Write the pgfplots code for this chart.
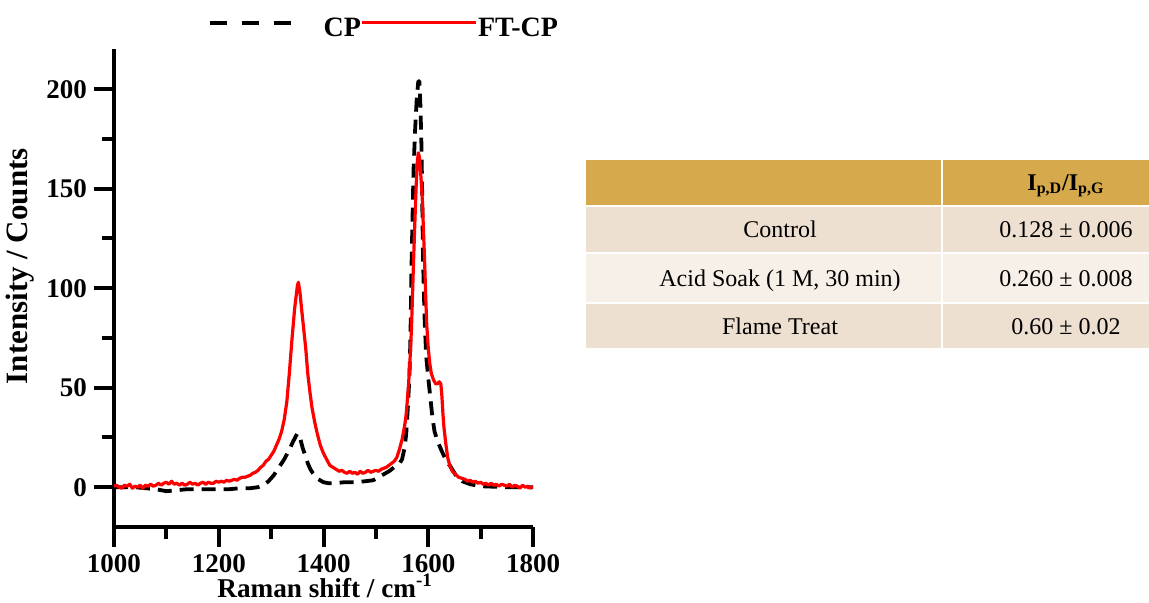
\documentclass[border=0pt]{standalone}
\usepackage{pgfplots}
\pgfplotsset{compat=1.18}
\usepackage{fontspec}
\setmainfont{Liberation Serif}
\definecolor{hdr}{RGB}{214,170,76}
\definecolor{rowA}{RGB}{237,224,209}
\definecolor{rowB}{RGB}{246,240,233}
\begin{document}
\begin{tikzpicture}
\useasboundingbox (0,0) rectangle (574.5pt,301pt);
\begin{axis}[
  at={(57pt,37.5pt)}, anchor=south west,
  scale only axis, width=209.5pt, height=238.8pt,
  xmin=1000, xmax=1800, ymin=-20, ymax=220,
  axis lines=left,
  axis line style={line width=2pt, -},
  xtick={1000,1200,1400,1600,1800}, ytick={0,50,100,150,200},
  minor xtick={1000,1200,1400,1600,1800}, minor ytick={0,50,100,150,200},
  extra x ticks={1100,1300,1500,1700}, extra x tick labels={},
  extra y ticks={25,75,125,175}, extra y tick labels={},
  extra x tick style={major tick length=6pt},
  extra y tick style={major tick length=6pt},
  tick align=outside, major tick length=10pt, minor tick length=10pt,
  every tick/.style={black, line width=2pt},
  xticklabel={\bfseries\pgfmathprintnumber[assume math mode=true,1000 sep={}]{\tick}},
  yticklabel={\bfseries\pgfmathprintnumber[assume math mode=true]{\tick}},
  ticklabel style={font=\bfseries\fontsize{13.5}{15}\selectfont},
  xlabel={Raman shift / cm\textsuperscript{-1}},
  ylabel={Intensity / Counts},
  xlabel style={font=\bfseries\fontsize{13.6}{15}\selectfont, at={(axis description cs:0.504,-0.123)}, anchor=center},
  ylabel style={font=\bfseries\fontsize{15.5}{17}\selectfont, at={(axis description cs:-0.224,0.546)}, anchor=center},
  legend columns=2,
  legend style={at={(axis description cs:0.2235,1.043)}, anchor=west, draw=none, fill=none, inner sep=0pt, outer sep=0pt,
    font=\bfseries\fontsize{14}{16}\selectfont, nodes={inner sep=0pt}, column sep=0pt},
]
\addplot[black, line width=1.9pt, dash pattern=on 7pt off 4pt, line join=round,
  legend image code/.code={\draw[black,line width=1.9pt,dash pattern=on 8.5pt off 7.5pt] (0pt,3pt) -- (40.5pt,3pt); \path[draw=none] (0pt,0pt) -- (57pt,0pt);}]
coordinates {
(1000,0) (1020,0) (1040,0) (1060,-0.5) (1080,-1) (1100,-2) (1120,-1.5) (1140,-1) (1160,-1) (1180,-1)
(1200,-1) (1220,-1) (1240,-0.5) (1260,-0.5) (1275,0) (1285,1) (1295,3) (1305,6) (1315,10) (1325,14)
(1335,19) (1342,23) (1350,27) (1355,25) (1360,20) (1365,16) (1370,12) (1375,9) (1380,7) (1390,4)
(1400,2.5) (1410,2) (1420,2) (1440,2.5) (1460,2.5) (1480,3) (1495,3.5) (1505,5) (1515,6.5) (1525,8)
(1535,10) (1545,12) (1550,14) (1555,20) (1558,27) (1561,40) (1564,55) (1566,75) (1568,110) (1570,136)
(1572,160) (1575,180) (1578,195) (1581,204) (1583,204) (1585,192) (1587,172) (1588,155) (1590,115) (1593,85)
(1596,66) (1600,55) (1604,45) (1608,35) (1612,28) (1618,23) (1626,18) (1635,13) (1641,11) (1648,8)
(1655,5) (1665,3) (1680,1.5) (1700,0.5) (1750,0) (1800,0)
};
\addlegendentry{CP}
\addplot[red, line width=1.6pt, line join=round,
  legend image code/.code={\draw[red,line width=1.6pt] (-3pt,3pt) -- (54pt,3pt); \path[draw=none] (0pt,0pt) -- (53pt,0pt);}]
coordinates {
(1000,0.5) (1005,1) (1010,0) (1015,-0.5) (1020,1) (1025,0.5) (1030,1.5) (1035,-0.5) (1040,0.5) (1045,0)
(1050,1) (1055,-0.5) (1060,1) (1065,0.5) (1070,1.5) (1075,0.5) (1080,1) (1085,2) (1090,1) (1095,2)
(1100,2.5) (1105,1.5) (1110,3) (1115,1.5) (1120,2) (1125,1) (1130,2) (1135,1) (1140,1.5) (1145,2.5)
(1150,1.5) (1155,2) (1160,1) (1165,2) (1170,2.5) (1175,1.5) (1180,2.5) (1185,2) (1190,2) (1195,3)
(1200,2.5) (1205,3) (1210,2.5) (1215,3.5) (1220,3) (1225,3.5) (1230,4) (1235,3.5) (1240,4.5) (1245,5)
(1250,5) (1255,5.5) (1260,6) (1265,7) (1270,7.5) (1275,8.5) (1280,10) (1285,11) (1290,13) (1295,14)
(1300,16) (1305,18) (1310,21) (1315,24) (1320,28) (1325,34) (1330,43) (1335,58) (1340,75) (1345,90)
(1350,101) (1352,103) (1355,98) (1358,90) (1362,80) (1366,70) (1370,57) (1374,48) (1378,40) (1383,33)
(1388,27) (1394,21) (1400,17) (1406,14) (1412,11) (1418,10) (1424,9) (1430,8) (1435,8.5) (1440,7.5)
(1445,7) (1450,8) (1455,7) (1460,7.5) (1465,6.5) (1470,8) (1475,7) (1480,7.5) (1485,8.5) (1490,7.5)
(1495,8) (1500,8.5) (1505,8) (1510,9) (1515,9.5) (1520,10) (1525,11) (1530,12) (1535,13) (1540,15)
(1545,19) (1550,24) (1555,31) (1558,37) (1562,50) (1565,63) (1568,80) (1570,97) (1572,114) (1574,130)
(1577,152) (1579,163) (1581,168) (1583,166) (1585,160) (1587,152) (1589,143) (1591,128) (1593,114) (1595,97)
(1597,82) (1600,70) (1603,62) (1606,57) (1610,54) (1614,52) (1618,52) (1621,53) (1624,52) (1626,46)
(1628,37) (1630,30) (1633,23) (1637,15) (1641,11) (1646,8) (1652,6.5) (1658,5) (1664,4.5) (1670,4)
(1675,3) (1680,3.5) (1685,2.5) (1690,3) (1695,2) (1700,2.5) (1705,1.5) (1710,2) (1715,1) (1720,2)
(1725,1) (1730,1.5) (1735,0.5) (1740,1.5) (1745,1) (1750,0.5) (1755,1.5) (1760,0) (1765,1) (1770,0.5)
(1775,-0.5) (1780,1) (1785,0) (1790,0.5) (1795,-0.5) (1800,0.5)
};
\addlegendentry{FT-CP}
\end{axis}
\begin{scope}[x=0.5pt,y=-0.5pt,yshift=301pt]
  \fill[hdr] (586,160) rectangle (1149,205);
  \fill[rowA] (586,207) rectangle (1149,252);
  \fill[rowB] (586,254) rectangle (1149,302);
  \fill[rowA] (586,304) rectangle (1149,348);
  \draw[white, line width=1pt] (942,160) -- (942,348);
  \node[anchor=base, inner sep=0pt, font=\bfseries\fontsize{12}{14}\selectfont] at (1066,190) {I\textsubscript{p,D}/I\textsubscript{p,G}};
  \node[anchor=base, inner sep=0pt, font=\fontsize{12}{14}\selectfont] at (780,237) {Control};
  \node[anchor=base, inner sep=0pt, font=\fontsize{12}{14}\selectfont] at (780,286) {Acid Soak (1 M, 30 min)};
  \node[anchor=base, inner sep=0pt, font=\fontsize{12}{14}\selectfont] at (780,334) {Flame Treat};
  \node[anchor=base, inner sep=0pt, font=\fontsize{12}{14}\selectfont] at (1066,237) {0.128 ± 0.006};
  \node[anchor=base, inner sep=0pt, font=\fontsize{12}{14}\selectfont] at (1066,286) {0.260 ± 0.008};
  \node[anchor=base, inner sep=0pt, font=\fontsize{12}{14}\selectfont] at (1066,334) {0.60 ± 0.02};
\end{scope}
\end{tikzpicture}
\end{document}
